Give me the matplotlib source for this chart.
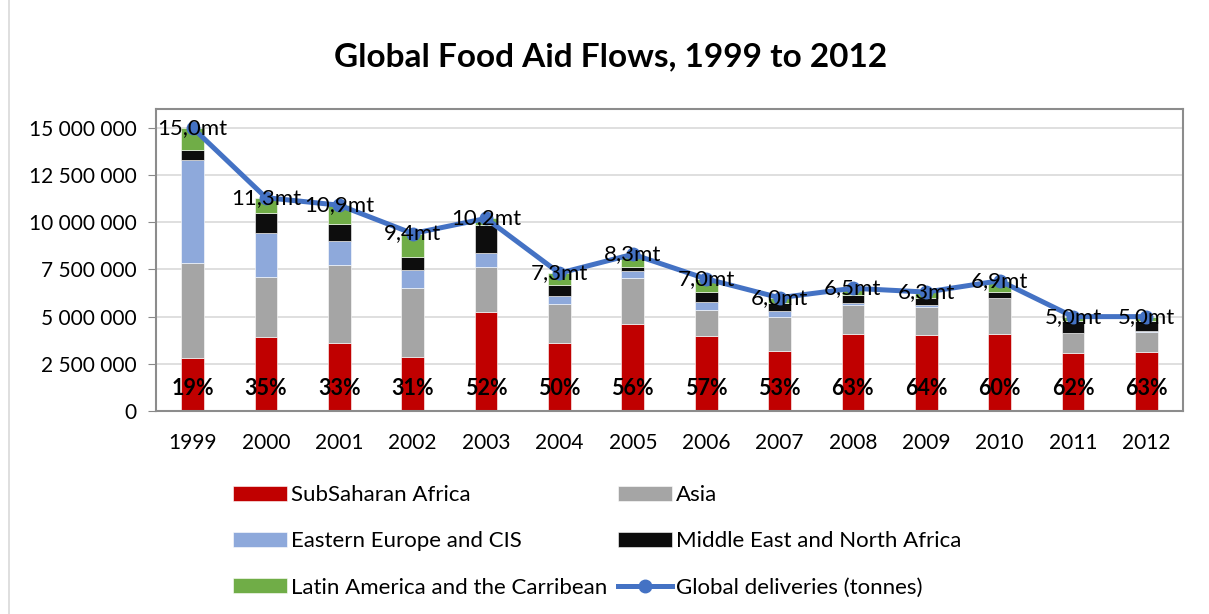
import matplotlib.pyplot as plt
import numpy as np

plt.rcParams['font.family'] = ['Lato', 'DejaVu Sans']

years = ['1999', '2000', '2001', '2002', '2003', '2004', '2005',
         '2006', '2007', '2008', '2009', '2010', '2011', '2012']

# tonnes
subsaharan = [2.80, 3.94, 3.62, 2.85, 5.26, 3.62, 4.60, 3.96, 3.16, 4.08, 4.03, 4.10, 3.05, 3.10]
asia = [5.06, 3.18, 4.10, 3.69, 2.39, 2.03, 2.47, 1.39, 1.80, 1.54, 1.46, 1.87, 1.07, 1.10]
eastern_europe = [5.44, 2.30, 1.31, 0.93, 0.71, 0.46, 0.35, 0.44, 0.34, 0.12, 0.11, 0.02, 0.02, 0.02]
middle_east = [0.50, 1.09, 0.88, 0.71, 1.50, 0.57, 0.19, 0.50, 0.41, 0.41, 0.37, 0.33, 0.65, 0.57]
latin_america = [1.20, 0.79, 0.99, 1.22, 0.34, 0.62, 0.69, 0.71, 0.29, 0.35, 0.33, 0.58, 0.21, 0.21]
global_total = [15.0, 11.3, 10.9, 9.4, 10.2, 7.3, 8.3, 7.0, 6.0, 6.5, 6.3, 6.9, 5.0, 5.0]
ssa_share = [19, 35, 33, 31, 52, 50, 56, 57, 53, 63, 64, 60, 62, 63]

series = [
    ('SubSaharan Africa', subsaharan, '#C00000'),
    ('Asia', asia, '#A5A5A5'),
    ('Eastern Europe and CIS', eastern_europe, '#8EA9DB'),
    ('Middle East and North Africa', middle_east, '#0D0D0D'),
    ('Latin America and the Carribean', latin_america, '#70AD47'),
]

fig = plt.figure(figsize=(12.09, 6.14), dpi=100)
ax = fig.add_axes([0.129, 0.3306, 0.8495, 0.492])

x = np.arange(len(years))
bottom = np.zeros(len(years))
handles = {}
for name, vals, col in series:
    v = np.array(vals) * 1e6
    b = ax.bar(x, v, 0.31, bottom=bottom, color=col, edgecolor='white',
               linewidth=0.4, label=name, zorder=2)
    handles[name] = b
    bottom += v

tot = np.array(global_total) * 1e6
line, = ax.plot(x, tot, color='#4472C4', lw=3.6, marker='o', ms=9,
                label='Global deliveries (tonnes)', zorder=3)

for xi, t in zip(x, global_total):
    ax.text(xi, t * 1e6, f'{t:.1f}'.replace('.', ',') + 'mt', ha='center',
            va='center', fontsize=16, zorder=4)
for xi, p in zip(x, ssa_share):
    ax.text(xi, 1.2e6, f'{p}%', ha='center', va='center', fontsize=15.5,
            fontweight='bold', zorder=4)

ax.set_xlim(-0.5, len(years) - 0.5)
ax.set_ylim(0, 16e6)
ax.set_yticks(np.arange(0, 15e6 + 1, 2.5e6))
ax.set_yticklabels([f'{int(v):,}'.replace(',', ' ') for v in np.arange(0, 15e6 + 1, 2.5e6)])
ax.set_xticks(x)
ax.set_xticklabels(years)
ax.tick_params(axis='y', labelsize=15, length=6, color='#888888', pad=8)
ax.tick_params(axis='x', labelsize=15, length=0, pad=16)
ax.grid(axis='y', color='#D9D9D9', lw=1.2, zorder=0)
ax.set_axisbelow(True)
for s in ax.spines.values():
    s.set_color('#8C8C8C')
    s.set_linewidth(1.5)

fig.text(0.505, 0.907, 'Global Food Aid Flows, 1999 to 2012', ha='center',
         va='center', fontsize=24, fontweight='bold')

order = ['SubSaharan Africa', 'Eastern Europe and CIS', 'Latin America and the Carribean',
         'Asia', 'Middle East and North Africa']
hs = [handles[n] for n in order] + [line]
ls = order + ['Global deliveries (tonnes)']
fig.legend(hs, ls, ncol=2, loc='upper left', bbox_to_anchor=(0.193, 0.21),
           frameon=False, fontsize=16, handlelength=2.4, handleheight=0.64,
           handletextpad=0.2, columnspacing=0.5, labelspacing=1.18,
           borderpad=0, borderaxespad=0)

fig.add_artist(plt.Line2D([9 / 1209, 9 / 1209], [0, 1], color='#D9D9D9', lw=1.2))

fig.savefig('out.png', dpi=100)
